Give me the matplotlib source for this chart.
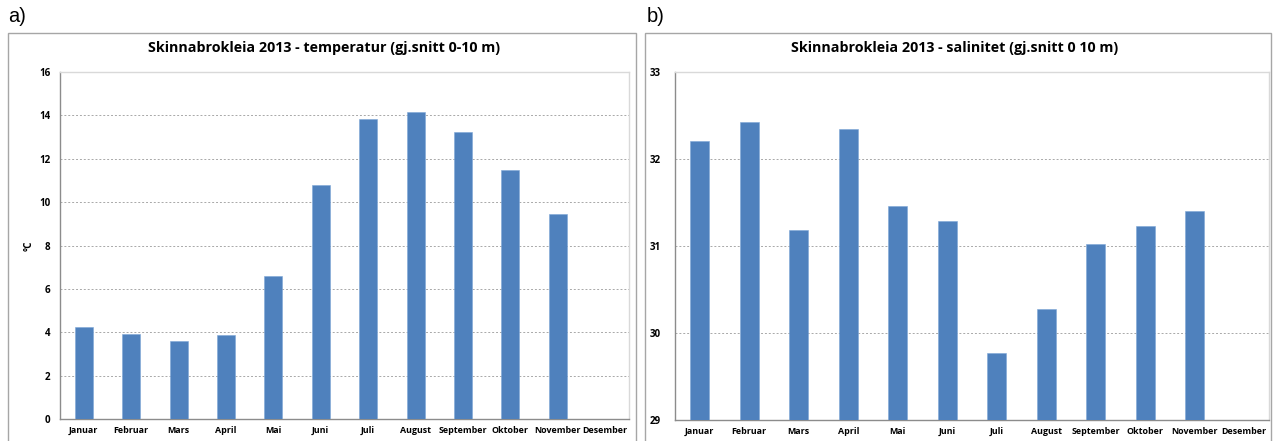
import matplotlib
matplotlib.use("Agg")
import matplotlib.pyplot as plt
from matplotlib.patches import Rectangle

months = ["Januar", "Februar", "Mars", "April", "Mai", "Juni", "Juli",
          "August", "September", "Oktober", "November", "Desember"]
temperature = [4.22, 3.92, 3.58, 3.87, 6.6, 10.77, 13.82, 14.15, 13.23, 11.47, 9.46, None]
salinity = [32.21, 32.42, 31.18, 32.35, 31.46, 31.29, 29.77, 30.28, 31.02, 31.23, 31.40, None]

title_a = "Skinnabrokleia 2013 - temperatur (gj.snitt 0-10 m)"
title_b = "Skinnabrokleia 2013 - salinitet (gj.snitt 0 10 m)"

W, H = 1273, 441
fig = plt.figure(figsize=(W / 100, H / 100), dpi=100)
fig.patch.set_facecolor("white")

BAR = "#4F81BD"
FONT = "Open Sans"


def fx(px):
    return px / W


def fy(py):
    return 1 - py / H


# panel frames
for (l, r) in [(8, 636), (645, 1271)]:
    fig.add_artist(Rectangle((fx(l), fy(445)), fx(r) - fx(l), fy(33) - fy(445),
                             transform=fig.transFigure, fill=False,
                             edgecolor="#a6a6a6", linewidth=1.0))

fig.text(fx(8), fy(17), "a)", fontsize=14.5, family="Liberation Sans", va="center", ha="left")
fig.text(fx(647), fy(17), "b)", fontsize=14.5, family="Liberation Sans", va="center", ha="left")


def draw(ax, values, ymin, ymax, step, title, cx, ypad):
    xs = list(range(len(months)))
    heights = [v - ymin if v is not None else 0 for v in values]
    ax.bar(xs, heights, bottom=ymin, width=0.38, color=BAR, edgecolor="#7ea6d6",
           linewidth=0.4, zorder=3)
    ax.set_xlim(-0.5, len(months) - 0.5)
    ax.set_ylim(ymin, ymax)
    ticks = []
    t = ymin
    while t <= ymax + 1e-9:
        ticks.append(t)
        t += step
    ax.set_yticks(ticks)
    ax.set_yticklabels([f"{int(t)}" for t in ticks], fontsize=7, fontweight="bold", family=FONT)
    ax.set_xticks(xs)
    ax.set_xticklabels(months, fontsize=6.4, fontweight="bold", family=FONT)
    ax.tick_params(axis="x", length=0, pad=5)
    ax.tick_params(axis="y", length=0, pad=ypad)
    for t in ticks[1:-1]:
        ax.axhline(t, color="#a8a8a8", linestyle=(0, (2, 2)), linewidth=0.7, zorder=1)
    for s in ax.spines.values():
        s.set_color("#d9d9d9")
        s.set_linewidth(1.0)
    ax.spines["left"].set_color("#8c8c8c")
    ax.spines["bottom"].set_color("#8c8c8c")
    fig.text(cx, fy(48), title, fontsize=10.3, fontweight="bold", family=FONT,
             ha="center", va="center")


ax1 = fig.add_axes([fx(60), fy(419), fx(629) - fx(60), fy(72) - fy(419)])
draw(ax1, temperature, 0, 16, 2, title_a, fx(324), 7)
ax1.set_ylabel("°C", fontsize=7, fontweight="bold", family=FONT, labelpad=3)

ax2 = fig.add_axes([fx(675), fy(420), fx(1269) - fx(675), fy(72) - fy(420)])
draw(ax2, salinity, 29, 33, 1, title_b, fx(955), 10)

fig.savefig("out.png", dpi=100, facecolor="white")
